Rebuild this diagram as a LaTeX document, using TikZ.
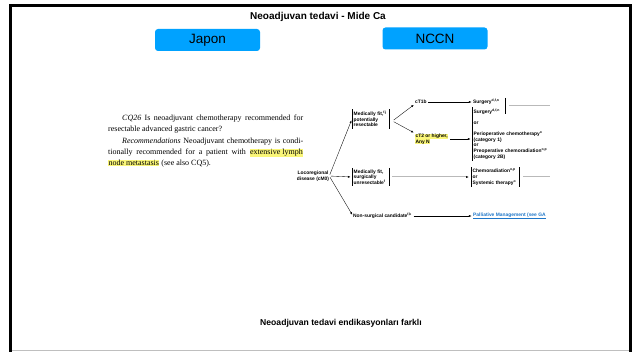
\documentclass[tikz,border=0pt]{standalone}
\usepackage{fontspec}
\setmainfont{Liberation Serif}
\newfontfamily\helv{Liberation Sans}
\usetikzlibrary{arrows.meta}
\definecolor{slideblue}{RGB}{0,162,255}
\definecolor{marker}{RGB}{250,246,120}
\definecolor{linkblue}{RGB}{30,118,200}
\tikzstyle{tab} = [rounded corners=3pt, fill=slideblue, minimum width=105pt, minimum height=22pt, inner sep=0pt, font=\helv\fontsize{13.5}{13.5}\selectfont]
\tikzstyle{heading} = [inner sep=0pt, font=\helv\bfseries\fontsize{10}{11}\selectfont]
\tikzstyle{paper} = [anchor=base west, inner sep=0pt, font=\fontsize{8}{10}\selectfont]
\tikzstyle{flowtxt} = [inner sep=0pt, align=left, font=\helv\bfseries\fontsize{4.9}{5.6}\selectfont]
\tikzstyle{boxed} = [flowtxt, anchor=west, inner xsep=1.5pt, inner ysep=1.5pt]
\tikzstyle{arr} = [-{Latex[length=2.6pt,width=2pt]}, line width=0.35pt, shorten >=1.5pt, shorten <=1.5pt]
\tikzstyle{grayrule} = [gray!55, line width=1pt]
\newcommand{\hl}[1]{{\setlength{\fboxsep}{0.4pt}\colorbox{marker}{#1}}}

\begin{document}
\begin{tikzpicture}[x=1pt, y=-1pt]
\useasboundingbox (0,0) rectangle (635,352);
% slide frame
\draw[gray!50, line width=1pt] (12,351) -- (629,351);
\draw[line width=3pt] (10.5,353) |- (630.5,6) -- (630.5,353);

\node[heading] (title) at (318,17) {Neoadjuvan tedavi - Mide Ca};
\node[tab] (japon) at (207.5,40) {Japon};
\node[tab] (nccn) at (435,38.5) {NCCN};

% Japanese guideline
\node[paper] (cq1) at (122,121) {\makebox[181pt][s]{\textit{CQ26} Is neoadjuvant chemotherapy recommended for}};
\node[paper] (cq2) at (108,132) {resectable advanced gastric cancer?};
\node[paper] (cq3) at (122,144) {\makebox[181pt][s]{\textit{Recommendations} Neoadjuvant chemotherapy is condi-}};
\node[paper] (cq4) at (108,155) {\makebox[195pt][s]{tionally recommended for a patient with \hl{extensive lymph}}};
\node[paper] (cq5) at (108,166) {\hl{node metastasis} (see also CQ5).};

% NCCN algorithm
\node[flowtxt, align=center] (loco) at (313,176) {Locoregional\\disease (cM0)};
\node[boxed, text width=34pt] (fitres) at (352,119) {Medically fit,\textsuperscript{f,j}\\potentially\\resectable};
\node[boxed, text width=34pt] (fitunres) at (352,177) {Medically fit,\\surgically\\unresectable\textsuperscript{f}};
\node[flowtxt, anchor=west] (nonsurg) at (353,216) {Non-surgical candidate\textsuperscript{f,k}};
\coordinate (fork) at ([xshift=3pt, yshift=-2pt]fitres.east);

\node[flowtxt, anchor=west] (ct1b) at (415,102) {cT1b};
\node[flowtxt, anchor=west] (ct2) at (415,139) {\hl{cT2 or higher,}\\\hl{Any N}};

\node[flowtxt, anchor=west] (surg) at (473,102) {Surgery\textsuperscript{d,f,n}};
\node[boxed, text width=80pt] (periop) at (472,134) {Surgery\textsuperscript{d,f,n}\\[5.5pt]or\\[5.5pt]Perioperative chemotherapy\textsuperscript{o}\\(category 1)\\or\\Preoperative chemoradiation\textsuperscript{o,p}\\(category 2B)};
\node[boxed, text width=45pt] (chemo) at (471,177) {Chemoradiation\textsuperscript{o,p}\\or\\Systemic therapy\textsuperscript{o}};
\node[flowtxt, anchor=west, text=linkblue] (palli) at (473,216) {\underline{Palliative Management (see GA}};

% brackets
\draw[line width=0.4pt] (fitres.north west) -- (fitres.south west) (fitres.north east) -- (fitres.south east);
\draw[line width=0.4pt] (fitunres.north west) -- (fitunres.south west) (fitunres.north east) -- (fitunres.south east);
\draw[line width=0.4pt] (chemo.north west) -- (chemo.south west) (chemo.north east) -- (chemo.south east);
\draw[line width=0.4pt] (periop.north west) -- (periop.south west);
\draw[line width=0.4pt] (505,98) -- (505,114);

% connectors
\draw[arr] (loco.east) -- (fitres.west);
\draw[arr] (loco.east) -- (fitunres.west);
\draw[arr] (loco.east) -- (nonsurg.west);
\draw[arr] (fork) -- (ct1b.south west);
\draw[arr] (fork) -- (ct2.north west);
\draw[arr] (ct1b.east) -- (surg.west);
\draw[arr] (ct2.east) -- (ct2.east -| periop.west);
\draw[arr] (nonsurg.east) -- (palli.west);
\draw[grayrule, -{Latex[length=3pt,width=2.2pt,color=black]}, shorten <=3pt, shorten >=2pt] (fitunres.east) -- (chemo.west);
\draw[grayrule] (509,106) -- (550,106);
\draw[grayrule] ([xshift=4pt]chemo.east) -- (550,177);

\node[heading, font=\helv\bfseries\fontsize{8.6}{10}\selectfont] (footer) at (341,323) {Neoadjuvan tedavi endikasyonları farklı};
\end{tikzpicture}
\end{document}
